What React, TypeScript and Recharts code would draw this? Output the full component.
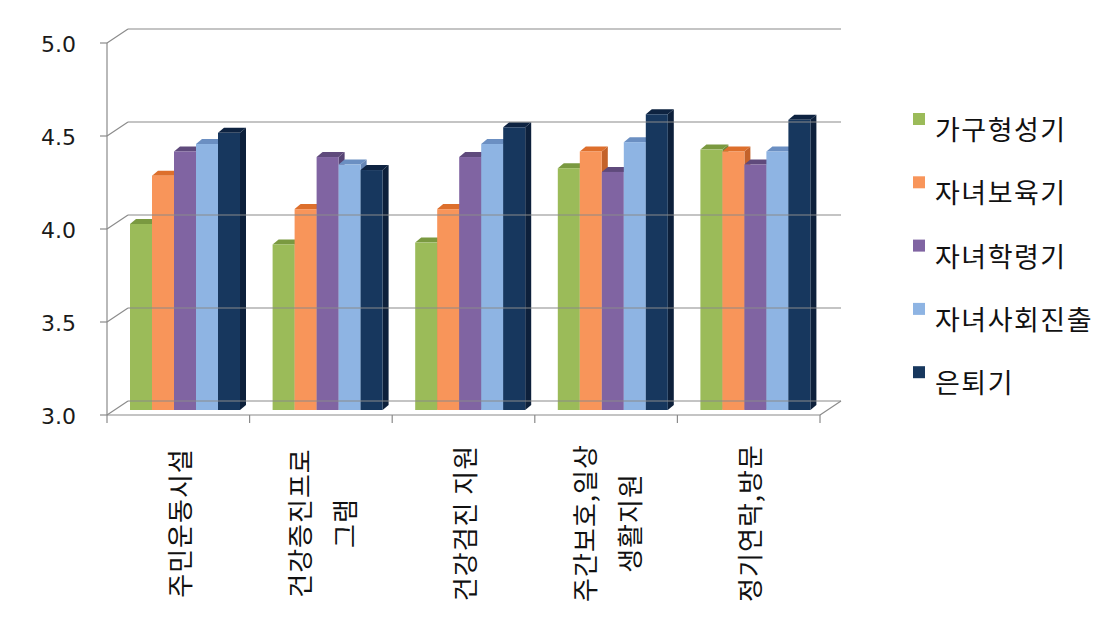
import React from 'react';
import { BarChart, Bar, XAxis, YAxis } from 'recharts';

// categories (with their line breaks as drawn under the axis)
const categories = ['주민운동시설', '건강증진프로그램', '건강검진 지원', '주간보호,일상생활지원', '정기연락,방문'];
const categoryLines = [
  ['주민운동시설'],
  ['건강증진프로', '그램'],
  ['건강검진 지원'],
  ['주간보호,일상', '생활지원'],
  ['정기연락,방문'],
];

const seriesNames = ['가구형성기', '자녀보육기', '자녀학령기', '자녀사회진출', '은퇴기'];
const householdFormation = [4.0, 3.89, 3.9, 4.3, 4.4];
const childRearing = [4.26, 4.08, 4.08, 4.39, 4.39];
const childSchooling = [4.39, 4.36, 4.36, 4.28, 4.32];
const childLaunching = [4.43, 4.32, 4.43, 4.44, 4.39];
const retirement = [4.49, 4.29, 4.52, 4.59, 4.56];
const yTicks = [3, 3.5, 4, 4.5, 5];

const seriesValues = [householdFormation, childRearing, childSchooling, childLaunching, retirement];
const seriesKeys = ['s0', 's1', 's2', 's3', 's4'];

const data = categories.map((name, i) => {
  const row: Record<string, any> = { name };
  seriesKeys.forEach((k, s) => (row[k] = seriesValues[s][i]));
  return row;
});

const colors = [
  { front: '#9BBB59', top: '#7A9940', side: '#6F8A3A' },
  { front: '#F8955A', top: '#DD6F2C', side: '#C4622A' },
  { front: '#8064A2', top: '#5F4A7C', side: '#574474' },
  { front: '#8EB4E3', top: '#6B8FC2', side: '#6686B5' },
  { front: '#17375E', top: '#0E2341', side: '#0D203B' },
];

const GRID = '#8a8a8a';
const PLOT_W = 713;
const WALL_DX = 21;
const WALL_DY = 14;
const BAR_SHIFT_X = 7;
const BAR_SHIFT_Y = 5;
const BAR_DX = 6;
const BAR_DY = 5;
const KO_FONT = '"Noto Sans CJK KR", "Noto Sans", sans-serif';

const make3DBar = (c: { front: string; top: string; side: string }) => (props: any) => {
  const { x, y, width, height } = props;
  if (height == null || width == null) return <g />;
  const fx = x + BAR_SHIFT_X;
  const fy = y - BAR_SHIFT_Y;
  const topPts = `${fx},${fy} ${fx + BAR_DX},${fy - BAR_DY} ${fx + width + BAR_DX},${fy - BAR_DY} ${fx + width},${fy}`;
  const sidePts = `${fx + width},${fy} ${fx + width + BAR_DX},${fy - BAR_DY} ${fx + width + BAR_DX},${fy + height - BAR_DY} ${fx + width},${fy + height}`;
  return (
    <g>
      <polygon points={sidePts} fill={c.side} />
      <polygon points={topPts} fill={c.top} />
      <rect x={fx} y={fy} width={width} height={height} fill={c.front} />
    </g>
  );
};

const YTick = (props: any) => {
  const { x, y, payload } = props;
  return (
    <g>
      <line x1={x - 7} y1={y} x2={x} y2={y} stroke={GRID} strokeWidth={1.2} />
      <line x1={x} y1={y} x2={x + WALL_DX} y2={y - WALL_DY} stroke={GRID} strokeWidth={1.2} />
      <line x1={x + WALL_DX} y1={y - WALL_DY} x2={x + WALL_DX + PLOT_W} y2={y - WALL_DY} stroke={GRID} strokeWidth={1.2} />
      <text x={x - 31} y={y} dy="0.42em" textAnchor="end" fontSize={22} fill="#1a1a1a" fontFamily='"DejaVu Sans", sans-serif'>
        {Number(payload.value).toFixed(1)}
      </text>
    </g>
  );
};

const XTick = (props: any) => {
  const { x, y, payload } = props;
  const idx = categories.indexOf(payload.value);
  const half = payload.offset || PLOT_W / categories.length / 2;
  const lines = categoryLines[idx] || [payload.value];
  const cx = x + 2;
  const cy = y + 108;
  return (
    <g>
      <line x1={x - half} y1={y} x2={x - half} y2={y + 8} stroke={GRID} strokeWidth={1.2} />
      {idx === categories.length - 1 && (
        <g>
          <line x1={x + half} y1={y} x2={x + half} y2={y + 8} stroke={GRID} strokeWidth={1.2} />
          <line x1={x + half} y1={y} x2={x + half + WALL_DX} y2={y - WALL_DY} stroke={GRID} strokeWidth={1.2} />
        </g>
      )}
      {lines.map((t, i) => {
        const lx = cx + (i - (lines.length - 1) / 2) * 45;
        return (
          <text
            key={i}
            transform={`translate(${lx},${cy}) rotate(-90)`}
            textAnchor="middle"
            dy="0.36em"
            fontSize={26}
            letterSpacing={1}
            fill="#111"
            fontFamily={KO_FONT}
          >
            {t}
          </text>
        );
      })}
    </g>
  );
};

const LegendBox = () => (
  <svg width={208} height={330} style={{ position: 'absolute', left: 900, top: 100 }}>
    {seriesNames.map((n, i) => (
      <g key={n}>
        <rect x={13} y={13 + i * 63.3} width={12} height={12} fill={colors[i].front} />
        <text x={35} y={40 + i * 63.3} fontSize={27} letterSpacing={1.5} fill="#111" fontFamily={KO_FONT}>
          {n}
        </text>
      </g>
    ))}
  </svg>
);

export default function App() {
  return (
    <div style={{ position: 'fixed', left: 0, top: 0, width: 1108, height: 622, background: '#fff' }}>
      <BarChart
        width={1108}
        height={622}
        data={data}
        margin={{ top: 43, right: 288, bottom: 7, left: 47 }}
        barSize={22}
        barGap={0}
      >
        <YAxis
          type="number"
          domain={[3, 5]}
          ticks={yTicks}
          width={60}
          tickSize={0}
          tickMargin={0}
          axisLine={{ stroke: GRID, strokeWidth: 1.2 }}
          tickLine={false}
          tick={(p: any) => <YTick {...p} />}
          interval={0}
        />
        <XAxis
          dataKey="name"
          type="category"
          height={200}
          tickSize={0}
          tickMargin={0}
          interval={0}
          axisLine={{ stroke: GRID, strokeWidth: 1.2 }}
          tickLine={false}
          tick={(p: any) => <XTick {...p} />}
        />
        {seriesKeys.map((k, s) => (
          <Bar
            key={k}
            dataKey={k}
            name={seriesNames[s]}
            fill={colors[s].front}
            shape={make3DBar(colors[s])}
            isAnimationActive={false}
          />
        ))}
      </BarChart>
      <LegendBox />
    </div>
  );
}
